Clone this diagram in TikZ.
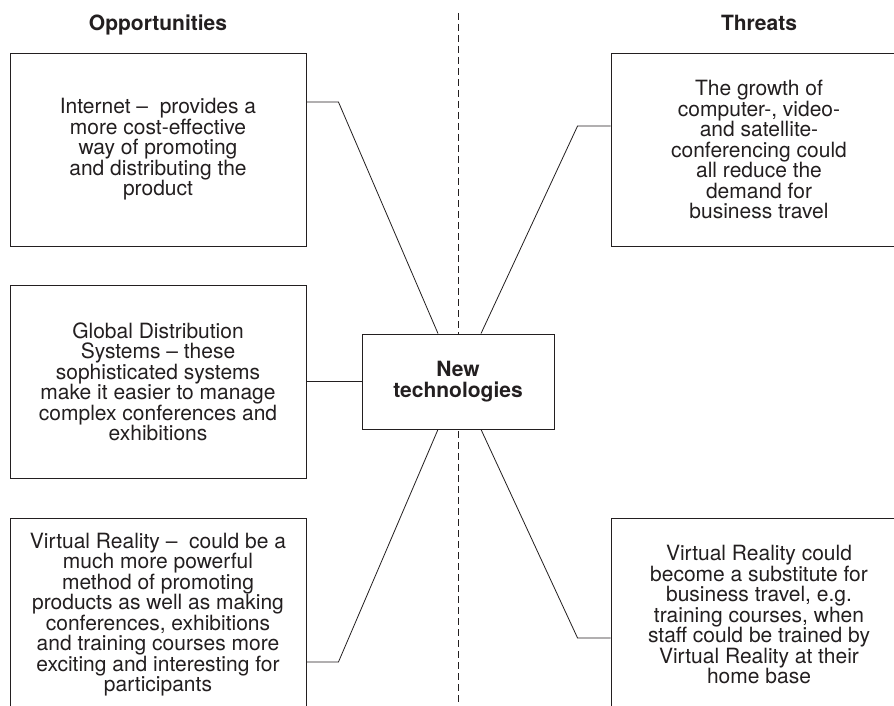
\documentclass[tikz,border=0pt]{standalone}
\usepackage{fontspec}
\setmainfont{TeX Gyre Heros}
\definecolor{ink}{HTML}{231F20}
\newcommand\dgboxfont{\fontsize{21}{20.5}\selectfont}
\begin{document}
\begin{tikzpicture}[x=1pt,y=-1pt,
  box/.style={draw=ink, line width=0.9pt, minimum width=296pt, minimum height=193pt,
    inner sep=0pt, align=center, font=\dgboxfont, text=ink, fill=white},
  hub/.style={draw=ink, line width=0.9pt, minimum width=192pt, minimum height=95pt,
    inner sep=0pt, align=center, font=\dgboxfont\bfseries, text=ink, fill=white},
  title/.style={font=\dgboxfont\bfseries, text=ink, anchor=base, inner sep=0pt},
  conn/.style={draw=ink, line width=0.8pt},
  divider/.style={draw=ink, line width=0.8pt, dash pattern=on 7pt off 4pt}]
\useasboundingbox (0,0) rectangle (894,706);
\fill[white] (0,0) rectangle (894,706);

\coordinate (dtop) at (458,13);
\coordinate (dbot) at (458,706);
\draw[divider] (dtop) -- (dbot);

\node[title] (opp) at (158,31) {Opportunities};
\node[title] (thr) at (759,31) {Threats};

\node[box] (tl) at (158,149.5) {Internet --\ \ provides a\\more cost-effective\\way of promoting\\and distributing the\\product};
\node[box] (tr) at (759,149.5) {The growth of\\computer-, video-\\and satellite-\\conferencing could\\all reduce the\\demand for\\business travel};
\node[box] (ml) at (158,382) {Global Distribution\\Systems -- these\\sophisticated systems\\make it easier to manage\\complex conferences and\\exhibitions};
\node[box] (bl) at (158,614.5) {Virtual Reality --\ \ could be a\\much more powerful\\method of promoting\\products as well as making\\conferences, exhibitions\\and training courses more\\exciting and interesting for\\participants};
\node[box] (br) at (759,614.5) {Virtual Reality could\\become a substitute for\\business travel, e.g.\\training courses, when\\staff could be trained by\\Virtual Reality at their\\home base};

\node[hub] (ctr) at (458,381.5) {New\\technologies};

\draw[conn] (tl.east |- 0,102) -- ++(32,0) -- (ctr.north -| 438,0);
\draw[conn] (tr.west |- 0,126) -- ++(-33,0) -- (ctr.north -| 481,0);
\draw[conn] (ml.east |- ctr.west) -- (ctr.west);
\draw[conn] (bl.east |- 0,662) -- ++(32,0) -- (ctr.south -| 438,0);
\draw[conn] (br.west |- 0,638) -- ++(-33,0) -- (ctr.south -| 481,0);
\end{tikzpicture}
\end{document}
